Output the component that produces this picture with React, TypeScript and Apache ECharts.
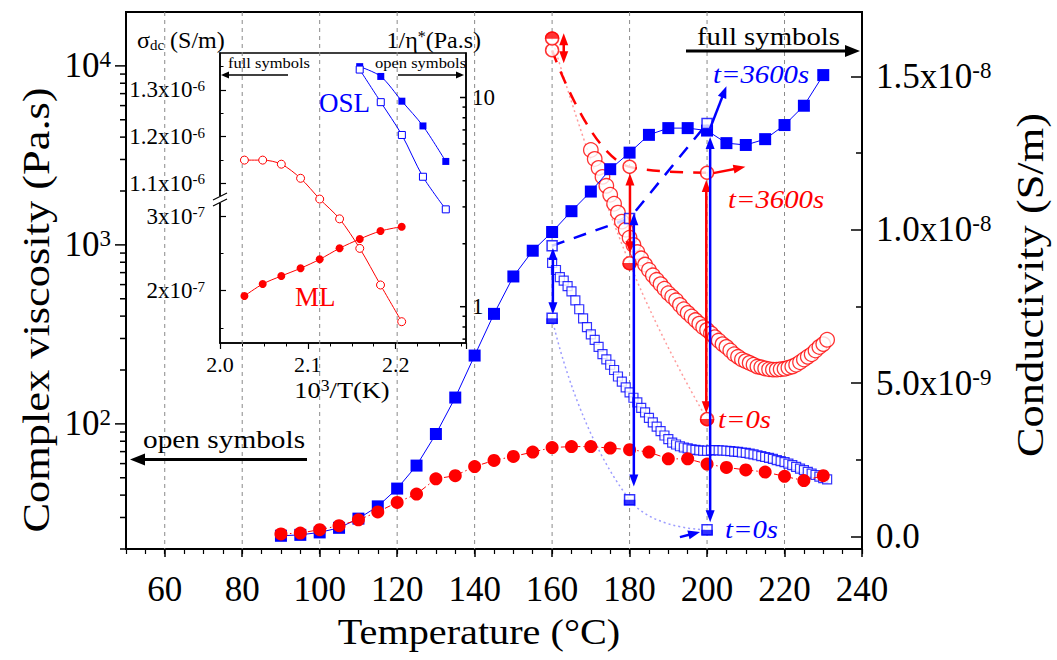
import React, { useEffect, useRef } from 'react';
import * as echarts from 'echarts';

const FONT = 'Liberation Serif, Times New Roman, Times, serif';
const BLUE = '#0000ff';
const RED = '#ff0000';

// ---------- main chart: conductivity (full symbols, right axis, in 1e-8 S/m) ----------
const fullTemps = [90, 95, 100, 105, 110, 115, 120, 125, 130, 135, 140, 145, 150, 155, 160, 165, 170, 175, 180, 185, 190, 195, 200, 205, 210, 215, 220, 225, 230];
const oslConductivity = [0.002, 0.005, 0.013, 0.028, 0.058, 0.098, 0.156, 0.231, 0.334, 0.453, 0.59, 0.726, 0.848, 0.932, 0.993, 1.061, 1.125, 1.198, 1.252, 1.31, 1.332, 1.332, 1.324, 1.283, 1.277, 1.296, 1.342, 1.405, 1.505];
const mlConductivity = [0.008, 0.011, 0.022, 0.035, 0.054, 0.08, 0.111, 0.138, 0.188, 0.198, 0.228, 0.248, 0.261, 0.275, 0.29, 0.293, 0.293, 0.288, 0.283, 0.275, 0.253, 0.253, 0.236, 0.225, 0.217, 0.21, 0.196, 0.182, 0.198];

// ---------- main chart: complex viscosity (open symbols, left axis, Pa.s) ----------
const oslViscTemps = [160, 161, 162, 163, 164, 165, 166, 167, 168, 169, 170, 171, 172, 173, 174, 175, 176, 177, 178, 179, 180, 181, 182, 183, 184, 185, 186, 187, 188, 189, 190, 191, 192, 193, 194, 195, 196, 197, 198, 199, 200, 201, 202, 203, 204, 205, 206, 207, 208, 209, 210, 211, 212, 213, 214, 215, 216, 217, 218, 219, 220, 221, 222, 223, 224, 225, 226, 227, 228, 229, 230, 231];
const oslViscosity = [794, 724, 661, 631, 589, 550, 490, 437, 389, 347, 316, 295, 269, 245, 229, 214, 200, 184, 172, 160, 150, 140, 132, 123, 116, 108, 102, 96.6, 91.2, 86.1, 82.2, 78.5, 76.7, 75.0, 73.8, 72.9, 72.1, 71.6, 71.1, 70.8, 70.8, 71.1, 71.3, 71.1, 71.0, 70.8, 70.5, 70.0, 69.7, 69.2, 68.9, 68.2, 67.6, 66.8, 66.1, 65.3, 64.6, 63.7, 62.8, 61.9, 61.1, 60.0, 58.9, 57.5, 56.2, 55.1, 54.0, 52.8, 51.8, 50.7, 49.8, 49.0];
const mlViscTemps = [170, 171, 172, 173, 174, 175, 176, 177, 178, 179, 180, 181, 182, 183, 184, 185, 186, 187, 188, 189, 190, 191, 192, 193, 194, 195, 196, 197, 198, 199, 200, 201, 202, 203, 204, 205, 206, 207, 208, 209, 210, 211, 212, 213, 214, 215, 216, 217, 218, 219, 220, 221, 222, 223, 224, 225, 226, 227, 228, 229, 230, 231];
const mlViscosity = [3388, 3020, 2692, 2399, 2138, 1905, 1698, 1514, 1349, 1216, 1096, 1000, 912, 841, 776, 724, 676, 638, 603, 569, 537, 513, 490, 462, 437, 417, 398, 380, 363, 347, 335, 320, 305, 292, 279, 269, 257, 245, 237, 229, 224, 219, 214, 209, 207, 204, 202, 201, 201, 202, 203, 206, 209, 214, 221, 229, 237, 245, 257, 269, 279, 295];

// ---------- isothermal runs (left axis, Pa.s) ----------
const isoTemps = [160, 180, 200];
const oslIso3600 = [989, 1406, 4766];
const oslIso0 = [389, 37.7, 25.6];
const mlIso3600 = [12220, 2729, 2529];
const mlIso0 = [14220, 789, 106.3];

// arrows: [T1, eta1, T2, eta2, headAtStart, headAtEnd]
const blueArrows = [
  [160.2, 960, 160.2, 410, 1, 1],
  [181.1, 1500, 181.1, 44.7, 1, 1],
  [200.8, 4009, 200.8, 28.2, 1, 1],
  [200.8, 4487, 205.0, 7690, 0, 1],
  [193.0, 23.3, 198.2, 24.9, 0, 1],
];
const redArrows = [
  [163.0, 15200, 163.0, 10350, 1, 1],
  [180.1, 2506, 180.1, 897, 1, 1],
  [199.8, 2301, 199.8, 114.8, 1, 1],
  [201.6, 2517, 209.9, 2728, 0, 1],
];

// ---------- main axes ticks ----------
const xMajorTicks = [60, 80, 100, 120, 140, 160, 180, 200, 220, 240];
const xGridLines = [60, 80, 100, 120, 140, 160, 180, 200, 220];
const viscMajorTicks = [100, 1000, 10000];
const viscMinorTicks = [30, 40, 50, 60, 70, 80, 90, 200, 300, 400, 500, 600, 700, 800, 900, 2000, 3000, 4000, 5000, 6000, 7000, 8000, 9000];
const condTickValues = [0, 0.5, 1.0, 1.5];
const condTickLabels = ['0.0', '5.0x10{sup|-9}', '1.0x10{sup|-8}', '1.5x10{sup|-8}'];
const condMinorTicks = [0.25, 0.75, 1.25];

// ---------- inset (Arrhenius plot) ----------
const insetOslInvT = [2.159, 2.183, 2.207, 2.231, 2.257];
const insetOslSigma = [1.35, 1.329, 1.276, 1.223, 1.147]; // 1e-6 S/m
const insetOslInvEta = [13.6, 9.5, 6.62, 4.18, 2.92];
const insetMlInvT = [2.0278, 2.0486, 2.0698, 2.0917, 2.1135, 2.1361, 2.1591, 2.1827, 2.2068];
const insetMlSigma = [1.929, 2.09, 2.197, 2.3, 2.42, 2.568, 2.692, 2.799, 2.857]; // 1e-7 S/m
const insetMlInvEta = [5.02, 5.02, 4.8, 4.11, 3.27, 2.63, 1.9, 1.27, 0.848];
const sigmaUpperTicks = [1.1, 1.2, 1.3];
const sigmaUpperLabels = ['1.1x10{sup|-6}', '1.2x10{sup|-6}', '1.3x10{sup|-6}'];
const sigmaUpperMinor = [1.15, 1.25, 1.35];
const sigmaLowerTicks = [2, 3];
const sigmaLowerLabels = ['2x10{sup|-7}', '3x10{sup|-7}'];
const sigmaLowerMinor = [1.5, 2.5];
const invEtaMajor = [1, 10];
const invEtaMinor = [0.7, 0.8, 0.9, 2, 3, 4, 5, 6, 7, 8, 9];

const HALF_RECT_BOTTOM = 'path://M0,0L10,0L10,5L0,5Z';
const HALF_CIRCLE_BOTTOM = 'path://M0,0A5,5,0,0,0,10,0Z';
const HALF_CIRCLE_TOP = 'path://M0,5A5,5,0,0,1,10,5Z';

const pow10Exp = (v: number) => {
  if (!(v > 0)) return null;
  const e = Math.round(Math.log10(v));
  return Math.abs(Math.pow(10, e) - v) < 1e-9 * Math.max(1, v) ? e : null;
};
const pickLabel = (v: number, vals: number[], labels: string[]) => {
  for (let i = 0; i < vals.length; i++) if (Math.abs(vals[i] - v) < 1e-6) return labels[i];
  return '';
};

function tickRender(params: any, api: any) {
  const p = api.coord([api.value(0), api.value(1)]);
  const len = api.value(2);
  const dir = api.value(3);
  return {
    type: 'line',
    shape: { x1: p[0], y1: p[1], x2: p[0] + dir * len, y2: p[1] },
    style: { stroke: '#000', lineWidth: 1.5 },
  };
}

function makeArrowRender(color: string, lineWidth: number, headLen: number, headHalf: number) {
  return (params: any, api: any) => {
    const p1 = api.coord([api.value(0), api.value(1)]);
    const p2 = api.coord([api.value(2), api.value(3)]);
    const hs = api.value(4) > 0;
    const he = api.value(5) > 0;
    const dx = p2[0] - p1[0];
    const dy = p2[1] - p1[1];
    const L = Math.hypot(dx, dy) || 1;
    const ux = dx / L;
    const uy = dy / L;
    const s = hs ? [p1[0] + ux * headLen * 0.7, p1[1] + uy * headLen * 0.7] : p1;
    const e = he ? [p2[0] - ux * headLen * 0.7, p2[1] - uy * headLen * 0.7] : p2;
    const children: any[] = [
      { type: 'line', shape: { x1: s[0], y1: s[1], x2: e[0], y2: e[1] }, style: { stroke: color, lineWidth } },
    ];
    const head = (tip: number[], vx: number, vy: number) => {
      const nx = -vy;
      const ny = vx;
      const bx = tip[0] - vx * headLen;
      const by = tip[1] - vy * headLen;
      return {
        type: 'polygon',
        shape: { points: [[tip[0], tip[1]], [bx + nx * headHalf, by + ny * headHalf], [bx - nx * headHalf, by - ny * headHalf]] },
        style: { fill: color },
      };
    };
    if (he) children.push(head(p2, ux, uy));
    if (hs) children.push(head(p1, -ux, -uy));
    return { type: 'group', children };
  };
}

function txt(x: number, y: number, text: string, size: number, o: any = {}) {
  return {
    type: 'text',
    x,
    y,
    z: 100,
    scaleX: o.sx ?? 1,
    rotation: o.rot ?? 0,
    style: {
      text,
      fontSize: size,
      fontFamily: FONT,
      fontStyle: o.italic ? 'italic' : 'normal',
      fill: o.color ?? '#000',
      align: o.align ?? 'left',
      verticalAlign: 'middle',
      rich: o.rich,
    },
  };
}

function hArrow(x1: number, x2: number, y: number, w: number, hl: number, hh: number) {
  const dir = x2 > x1 ? 1 : -1;
  return [
    { type: 'line', z: 100, shape: { x1, y1: y, x2: x2 - dir * hl * 0.6, y2: y }, style: { stroke: '#000', lineWidth: w } },
    { type: 'polygon', z: 100, shape: { points: [[x2, y], [x2 - dir * hl, y - hh], [x2 - dir * hl, y + hh]] }, style: { fill: '#000' } },
  ];
}

function buildOption() {
  const supRich = (size: number) => ({ sup: { fontSize: size, fontFamily: FONT, color: '#000', verticalAlign: 'top' } });
  const lineBlack = (w: number) => ({ color: '#000', width: w });

  const xAxis = [
    {
      gridIndex: 0, type: 'value', min: 50, max: 240, interval: 10, position: 'bottom',
      axisLine: { onZero: false, lineStyle: lineBlack(2) },
      axisTick: { show: true, length: 8, lineStyle: lineBlack(1.5), customValues: xMajorTicks },
      axisLabel: {
        fontFamily: FONT, color: '#000', fontSize: 35, margin: 23, customValues: xMajorTicks,
        formatter: (v: number) => (v % 20 === 0 && v > 50 ? String(v) : ''),
      },
      splitLine: { show: false },
    },
    {
      gridIndex: 0, type: 'value', min: 50, max: 240, interval: 5, position: 'bottom',
      axisLine: { show: false, onZero: false },
      axisTick: { show: true, length: 5, lineStyle: lineBlack(1.2) },
      axisLabel: { show: false }, splitLine: { show: false },
    },
    {
      gridIndex: 1, type: 'value', min: 2.0, max: 2.28, interval: 0.1, position: 'bottom',
      axisLine: { onZero: false, lineStyle: lineBlack(1.5) },
      axisTick: { show: true, length: 6, lineStyle: lineBlack(1.2) },
      axisLabel: {
        fontFamily: FONT, color: '#000', fontSize: 22, margin: 10,
        formatter: (v: number) => (Math.abs(v * 10 - Math.round(v * 10)) < 1e-6 ? v.toFixed(1) : ''),
      },
      splitLine: { show: false },
    },
    {
      gridIndex: 1, type: 'value', min: 2.0, max: 2.28, interval: 0.025, position: 'bottom',
      axisLine: { show: false, onZero: false },
      axisTick: { show: true, length: 3.5, lineStyle: lineBlack(1) },
      axisLabel: { show: false }, splitLine: { show: false },
    },
  ];

  const yAxis = [
    {
      gridIndex: 0, type: 'log', logBase: 10, min: 20, max: 20000, position: 'left',
      axisLine: { onZero: false, lineStyle: lineBlack(2) },
      axisTick: { show: false },
      axisLabel: {
        fontFamily: FONT, color: '#000', fontSize: 35, margin: 15, rich: supRich(23),
        formatter: (v: number) => {
          const e = pow10Exp(v);
          return e === null ? '' : '10{sup|' + e + '}';
        },
      },
      splitLine: { show: false },
    },
    {
      gridIndex: 0, type: 'value', min: -0.0411, max: 1.7108, position: 'right',
      axisLine: { onZero: false, lineStyle: lineBlack(2) },
      axisTick: { show: true, inside: true, length: 11, lineStyle: lineBlack(1.5), customValues: condTickValues },
      axisLabel: {
        fontFamily: FONT, color: '#000', fontSize: 35, margin: 14, rich: supRich(23), customValues: condTickValues,
        formatter: (v: number) => pickLabel(v, condTickValues, condTickLabels),
      },
      splitLine: { show: false },
    },
    {
      gridIndex: 0, type: 'value', min: -0.0411, max: 1.7108, position: 'right',
      axisLine: { show: false, onZero: false },
      axisTick: { show: true, inside: true, length: 6, lineStyle: lineBlack(1.5), customValues: condMinorTicks },
      axisLabel: { show: false }, splitLine: { show: false },
    },
    {
      gridIndex: 1, type: 'value', min: 0.7582, max: 1.3792, position: 'left',
      axisLine: { onZero: false, lineStyle: lineBlack(1.5) },
      axisTick: { show: true, inside: true, length: 6, lineStyle: lineBlack(1.2), customValues: sigmaUpperTicks },
      axisLabel: {
        fontFamily: FONT, color: '#000', fontSize: 23, margin: 15, rich: supRich(15), customValues: sigmaUpperTicks,
        formatter: (v: number) => pickLabel(v, sigmaUpperTicks, sigmaUpperLabels),
      },
      splitLine: { show: false },
    },
    {
      gridIndex: 1, type: 'value', min: 0.7582, max: 1.3792, position: 'left',
      axisLine: { show: false, onZero: false },
      axisTick: { show: true, inside: true, length: 3.5, lineStyle: lineBlack(1), customValues: sigmaUpperMinor },
      axisLabel: { show: false }, splitLine: { show: false },
    },
    {
      gridIndex: 1, type: 'value', min: 1.3, max: 5.182, position: 'left',
      axisLine: { show: false, onZero: false },
      axisTick: { show: true, inside: true, length: 6, lineStyle: lineBlack(1.2), customValues: sigmaLowerTicks },
      axisLabel: {
        fontFamily: FONT, color: '#000', fontSize: 23, margin: 15, rich: supRich(15), customValues: sigmaLowerTicks,
        formatter: (v: number) => pickLabel(v, sigmaLowerTicks, sigmaLowerLabels),
      },
      splitLine: { show: false },
    },
    {
      gridIndex: 1, type: 'value', min: 1.3, max: 5.182, position: 'left',
      axisLine: { show: false, onZero: false },
      axisTick: { show: true, inside: true, length: 3.5, lineStyle: lineBlack(1), customValues: sigmaLowerMinor },
      axisLabel: { show: false }, splitLine: { show: false },
    },
    {
      gridIndex: 1, type: 'log', logBase: 10, min: 0.6707, max: 16.32, position: 'right',
      axisLine: { onZero: false, lineStyle: lineBlack(1.5) },
      axisTick: { show: false },
      axisLabel: {
        fontFamily: FONT, color: '#000', fontSize: 23, margin: 6,
        formatter: (v: number) => {
          const e = pow10Exp(v);
          return e === null ? '' : String(Math.pow(10, e));
        },
      },
      splitLine: { show: false },
    },
  ];

  const pairs = (xs: number[], ys: number[]) => xs.map((x, i) => [x, ys[i]]);

  const series: any[] = [
    // dashed vertical grid lines of the main plot
    {
      type: 'custom', xAxisIndex: 0, yAxisIndex: 1, z: 1, clip: false, silent: true,
      data: xGridLines.map((v) => [v, 0]),
      renderItem: (params: any, api: any) => {
        const x = api.coord([api.value(0), 0])[0];
        const cs = params.coordSys;
        return {
          type: 'line',
          shape: { x1: x, y1: cs.y, x2: x, y2: cs.y + cs.height },
          style: { stroke: '#8a8a8a', lineWidth: 1, lineDash: [4, 4] },
        };
      },
    },
    // left log axis ticks
    {
      type: 'custom', xAxisIndex: 0, yAxisIndex: 0, z: 10, clip: false, silent: true,
      data: [...viscMajorTicks.map((v) => [50, v, 11, -1]), ...viscMinorTicks.map((v) => [50, v, 6, -1]), [50, 20, 6, -1]],
      renderItem: tickRender,
    },
    // inset right log axis ticks
    {
      type: 'custom', xAxisIndex: 2, yAxisIndex: 7, z: 10, clip: false, silent: true,
      data: [...invEtaMajor.map((v) => [2.28, v, 6, -1]), ...invEtaMinor.map((v) => [2.28, v, 3.5, -1])],
      renderItem: tickRender,
    },
    // t=0 dotted paths
    {
      type: 'line', xAxisIndex: 0, yAxisIndex: 0, z: 2, smooth: 0.5, showSymbol: false, silent: true,
      data: pairs(isoTemps, oslIso0),
      lineStyle: { color: '#9c9cff', width: 1.5, type: [2, 3] },
    },
    {
      type: 'line', xAxisIndex: 0, yAxisIndex: 0, z: 2, smooth: 0.5, showSymbol: false, silent: true,
      data: pairs(isoTemps, mlIso0),
      lineStyle: { color: '#ff9c9c', width: 1.5, type: [2, 3] },
    },
    // t=3600s dashed paths
    {
      type: 'line', xAxisIndex: 0, yAxisIndex: 0, z: 2, showSymbol: false, silent: true,
      data: pairs(isoTemps, oslIso3600),
      lineStyle: { color: BLUE, width: 2.5, type: [13, 10] },
    },
    {
      type: 'line', xAxisIndex: 0, yAxisIndex: 0, z: 2, smooth: 0.4, showSymbol: false, silent: true,
      data: pairs(isoTemps, mlIso3600),
      lineStyle: { color: RED, width: 2.5, type: [13, 10] },
    },
    // OSL complex viscosity (open squares)
    {
      name: 'OSL viscosity', type: 'scatter', xAxisIndex: 0, yAxisIndex: 0, z: 3,
      data: pairs(oslViscTemps, oslViscosity),
      symbol: 'rect', symbolSize: 9,
      itemStyle: { color: '#fff', borderColor: BLUE, borderWidth: 1.2 },
    },
    // ML complex viscosity (open circles)
    {
      name: 'ML viscosity', type: 'scatter', xAxisIndex: 0, yAxisIndex: 0, z: 4,
      data: pairs(mlViscTemps, mlViscosity),
      symbol: 'circle', symbolSize: 14.5,
      itemStyle: { color: '#fff', borderColor: RED, borderWidth: 1.3 },
    },
    // OSL conductivity (full squares)
    {
      name: 'OSL conductivity', type: 'line', xAxisIndex: 0, yAxisIndex: 1, z: 5,
      data: pairs(fullTemps, oslConductivity),
      symbol: 'rect', symbolSize: 12, showAllSymbol: true,
      itemStyle: { color: BLUE },
      lineStyle: { color: BLUE, width: 1 },
    },
    // ML conductivity (full circles)
    {
      name: 'ML conductivity', type: 'line', xAxisIndex: 0, yAxisIndex: 1, z: 6,
      data: pairs(fullTemps, mlConductivity),
      symbol: 'circle', symbolSize: 13, showAllSymbol: true,
      itemStyle: { color: RED },
      lineStyle: { color: RED, width: 1, type: [6, 3, 1.5, 3] },
    },
    // isothermal markers
    {
      type: 'scatter', xAxisIndex: 0, yAxisIndex: 0, z: 7,
      data: pairs(isoTemps, oslIso3600), symbol: 'rect', symbolSize: 10,
      itemStyle: { color: '#fff', borderColor: BLUE, borderWidth: 1.5 },
    },
    {
      type: 'scatter', xAxisIndex: 0, yAxisIndex: 0, z: 7,
      data: pairs(isoTemps, oslIso0), symbol: 'rect', symbolSize: 10,
      itemStyle: { color: '#fff', borderColor: BLUE, borderWidth: 1.5 },
    },
    {
      type: 'scatter', xAxisIndex: 0, yAxisIndex: 0, z: 8,
      data: pairs(isoTemps, oslIso0), symbol: HALF_RECT_BOTTOM, symbolSize: [11.5, 5.75], symbolOffset: [0, 2.9],
      itemStyle: { color: BLUE },
    },
    {
      type: 'scatter', xAxisIndex: 0, yAxisIndex: 0, z: 7,
      data: pairs(isoTemps, mlIso3600), symbol: 'circle', symbolSize: 13,
      itemStyle: { color: '#fff', borderColor: RED, borderWidth: 1.5 },
    },
    {
      type: 'scatter', xAxisIndex: 0, yAxisIndex: 0, z: 7,
      data: pairs(isoTemps, mlIso0), symbol: 'circle', symbolSize: 13,
      itemStyle: { color: '#fff', borderColor: RED, borderWidth: 1.5 },
    },
    {
      type: 'scatter', xAxisIndex: 0, yAxisIndex: 0, z: 8,
      data: isoTemps.map((t, i) =>
        i === 0
          ? { value: [t, mlIso0[i]], symbol: HALF_CIRCLE_TOP, symbolOffset: [0, -3.4] }
          : { value: [t, mlIso0[i]], symbol: HALF_CIRCLE_BOTTOM, symbolOffset: [0, 3.4] }
      ),
      symbolSize: [14.5, 7.25],
      itemStyle: { color: RED },
    },
    // arrows
    {
      type: 'custom', xAxisIndex: 0, yAxisIndex: 0, z: 9, clip: false, silent: true,
      data: redArrows, renderItem: makeArrowRender(RED, 2.5, 12, 4.5),
    },
    {
      type: 'custom', xAxisIndex: 0, yAxisIndex: 0, z: 9, clip: false, silent: true,
      data: blueArrows, renderItem: makeArrowRender(BLUE, 2.5, 12, 4.5),
    },
    // ---------- inset ----------
    {
      name: 'OSL sigma', type: 'line', xAxisIndex: 2, yAxisIndex: 3, z: 20, smooth: 0.3,
      data: pairs(insetOslInvT, insetOslSigma), symbol: 'rect', symbolSize: 7,
      itemStyle: { color: BLUE }, lineStyle: { color: BLUE, width: 1 },
    },
    {
      name: 'OSL 1/eta', type: 'line', xAxisIndex: 2, yAxisIndex: 7, z: 20, smooth: 0.3,
      data: pairs(insetOslInvT, insetOslInvEta), symbol: 'rect', symbolSize: 7,
      itemStyle: { color: '#fff', borderColor: BLUE, borderWidth: 1 }, lineStyle: { color: BLUE, width: 1 },
    },
    {
      name: 'ML sigma', type: 'line', xAxisIndex: 2, yAxisIndex: 5, z: 20, smooth: 0.3,
      data: pairs(insetMlInvT, insetMlSigma), symbol: 'circle', symbolSize: 8,
      itemStyle: { color: RED }, lineStyle: { color: RED, width: 1 },
    },
    {
      name: 'ML 1/eta', type: 'line', xAxisIndex: 2, yAxisIndex: 7, z: 20, smooth: 0.3,
      data: pairs(insetMlInvT, insetMlInvEta), symbol: 'circle', symbolSize: 8,
      itemStyle: { color: '#fff', borderColor: RED, borderWidth: 1 }, lineStyle: { color: RED, width: 1 },
    },
  ];

  const SX = 1.15;
  const graphic: any[] = [
    txt(479, 632, 'Temperature (°C)', 35, { align: 'center', sx: SX }),
    txt(37, 310, 'Complex viscosity (Pa.s)', 37, { align: 'center', sx: 1.2, rot: Math.PI / 2 }),
    txt(1031, 285, 'Conductivity (S/m)', 37, { align: 'center', sx: 1.2, rot: Math.PI / 2 }),
    txt(697, 37, 'full symbols', 25, { sx: SX }),
    ...hArrow(686, 860, 51, 3, 15, 6),
    txt(143, 440, 'open symbols', 25.5, { sx: SX }),
    ...hArrow(307, 130, 459.5, 3, 15, 6),
    txt(713, 75, 't=3600s', 25, { sx: SX, italic: true, color: BLUE }),
    txt(725, 530, 't=0s', 25, { sx: SX, italic: true, color: BLUE }),
    txt(728, 200, 't=3600s', 25, { sx: SX, italic: true, color: RED }),
    txt(718, 420, 't=0s', 25, { sx: SX, italic: true, color: RED }),
    // inset texts
    txt(137, 40, 'σ{sub|dc} (S/m)', 24, { rich: { sub: { fontSize: 15, fontFamily: FONT, verticalAlign: 'bottom' } } }),
    txt(481, 40, '1/η{sup|*}(Pa.s)', 24, { align: 'right', rich: { sup: { fontSize: 16, fontFamily: FONT, verticalAlign: 'top' } } }),
    txt(228, 63, 'full symbols', 15, { sx: 1.1 }),
    ...hArrow(288, 221, 75, 1.5, 8, 3.5),
    txt(375, 63, 'open symbols', 15, { sx: 1.1 }),
    ...hArrow(398, 464, 75, 1.5, 8, 3.5),
    txt(319, 103, 'OSL', 27, { color: BLUE }),
    txt(295, 297, 'ML', 27, { color: RED }),
    txt(342, 390, '10{sup|3}/T(K)', 24, { align: 'center', sx: 1.1, rich: { sup: { fontSize: 16, fontFamily: FONT, verticalAlign: 'top' } } }),
    // axis break mark on inset left axis
    { type: 'rect', z: 101, shape: { x: 216, y: 196, width: 8, height: 7 }, style: { fill: '#fff' } },
    { type: 'line', z: 102, shape: { x1: 213, y1: 200, x2: 227, y2: 193 }, style: { stroke: '#000', lineWidth: 1.2 } },
    { type: 'line', z: 102, shape: { x1: 213, y1: 206, x2: 227, y2: 199 }, style: { stroke: '#000', lineWidth: 1.2 } },
  ];

  return {
    animation: false,
    backgroundColor: '#fff',
    textStyle: { fontFamily: FONT },
    grid: [
      { left: 126, top: 12, width: 736, height: 537, show: true, borderColor: '#000', borderWidth: 2, backgroundColor: 'transparent' },
      { left: 220, top: 53, width: 246, height: 290, show: true, borderColor: '#000', borderWidth: 1.5, backgroundColor: 'transparent' },
    ],
    xAxis,
    yAxis,
    series,
    graphic,
  };
}

export default function App() {
  const ref = useRef<HTMLDivElement>(null);
  useEffect(() => {
    if (!ref.current) return;
    const chart = echarts.init(ref.current, undefined, { renderer: 'svg' });
    chart.setOption(buildOption() as any);
    return () => chart.dispose();
  }, []);
  return <div ref={ref} style={{ position: 'fixed', left: 0, top: 0, width: 1057, height: 660, background: '#fff' }} />;
}
